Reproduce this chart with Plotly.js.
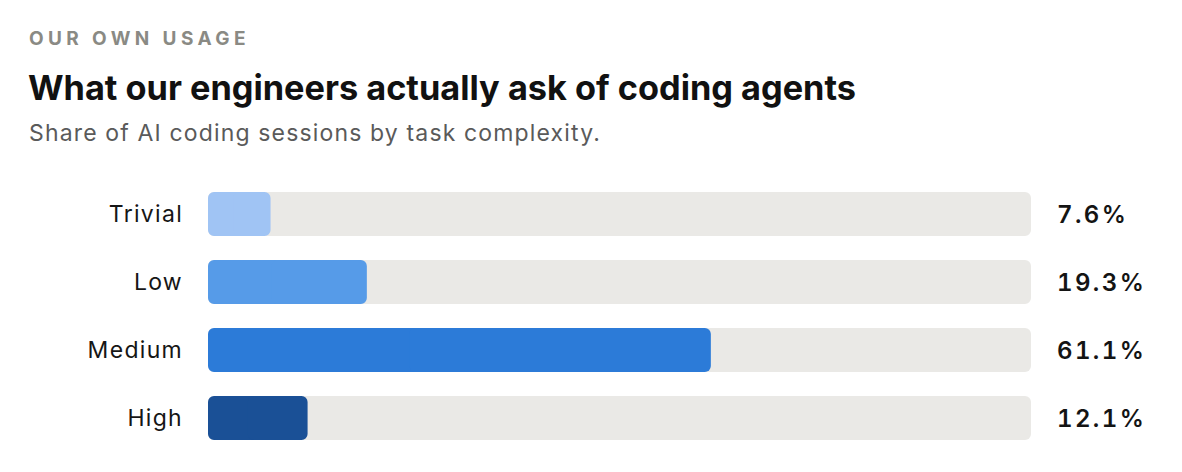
<!DOCTYPE html>
<html>
<head>
<meta charset="utf-8">
<script src="https://cdn.plot.ly/plotly-3.0.1.min.js"></script>
<style>
  html, body { margin: 0; padding: 0; background: #ffffff; }
  #chart { width: 1182px; height: 472px; }
</style>
</head>
<body>
<div id="chart"></div>
<script>
// ---- data ----
const categories = ["Trivial", "Low", "Medium", "High"];
const shares = [7.6, 19.3, 61.1, 12.1];
const valueLabels = ["7.6%", "19.3%", "61.1%", "12.1%"];
const trackValues = [100, 100, 100, 100];
const barColors = ["#a0c4f4", "#569be8", "#2c7bd8", "#1a5096"];

const kicker = "OUR OWN USAGE";
const titleText = "What our engineers actually ask of coding agents";
const subtitleText = "Share of AI coding sessions by task complexity.";

const FONT = "Inter, 'Noto Sans', 'DejaVu Sans', sans-serif";
const W = 1182, H = 472;
const M = { l: 208, r: 151, t: 180, b: 20 };

// Each bar is drawn as two overlapping halves so that both ends get rounded
// corners (Plotly rounds only the end away from the base).
function roundedBars(values, color) {
  const right = {
    type: "bar", orientation: "h",
    y: categories,
    base: values.map(v => v * 0.4),
    x: values.map(v => v * 0.6),
    marker: { color: color, line: { width: 0 } },
    hoverinfo: "skip", showlegend: false
  };
  const left = {
    type: "bar", orientation: "h",
    y: categories,
    base: values.map(v => v * 0.6),
    x: values.map(v => -v * 0.6),
    marker: { color: color, line: { width: 0 } },
    hoverinfo: "skip", showlegend: false
  };
  return [left, right];
}

const traces = [
  ...roundedBars(trackValues, "#eae9e6"),
  ...roundedBars(shares, barColors)
];

const textX = (px) => ({ xref: "paper", x: 0, xshift: px - M.l, xanchor: "left" });
const textY = (py) => ({ yref: "paper", y: 1, yshift: M.t - py, yanchor: "middle" });

const annotations = [
  Object.assign({
    text: '<span style="letter-spacing:4.4px">' + kicker + '</span>',
    showarrow: false,
    font: { family: FONT, size: 19, color: "#8a8a84", weight: 700 }
  }, textX(27), textY(38)),
  Object.assign({
    text: titleText,
    showarrow: false,
    font: { family: FONT, size: 34.3, color: "#111111", weight: 700 }
  }, textX(26), textY(87)),
  Object.assign({
    text: '<span style="letter-spacing:1.15px">' + subtitleText + '</span>',
    showarrow: false,
    font: { family: FONT, size: 23, color: "#5a5a5a", weight: 400 }
  }, textX(27), textY(133))
];

categories.forEach((c, i) => {
  annotations.push({
    x: trackValues[i], y: c, xref: "x", yref: "y",
    text: '<span style="letter-spacing:2.4px;font-variant-numeric:tabular-nums">' + valueLabels[i] + '</span>',
    showarrow: false,
    xanchor: "left", yanchor: "middle", xshift: 24,
    font: { family: FONT, size: 24, color: "#141414", weight: 600 }
  });
});

const layout = {
  width: W, height: H,
  margin: M,
  paper_bgcolor: "#ffffff", plot_bgcolor: "#ffffff",
  barmode: "overlay",
  bargap: 0.356,
  barcornerradius: 6,
  showlegend: false,
  xaxis: {
    range: [0, 100], fixedrange: true,
    showgrid: false, zeroline: false, showticklabels: false, showline: false, ticks: ""
  },
  yaxis: {
    autorange: "reversed", fixedrange: true,
    showgrid: false, zeroline: false, showline: false, ticks: "",
    tickmode: "array",
    tickvals: categories,
    ticktext: categories.map(c => '<span style="letter-spacing:1.3px">' + c + '</span>'),
    ticklabelstandoff: 24,
    tickfont: { family: FONT, size: 23, color: "#161616" }
  },
  annotations: annotations,
  hovermode: false
};

Plotly.newPlot("chart", traces, layout, { displayModeBar: false, staticPlot: true });
</script>
</body>
</html>
